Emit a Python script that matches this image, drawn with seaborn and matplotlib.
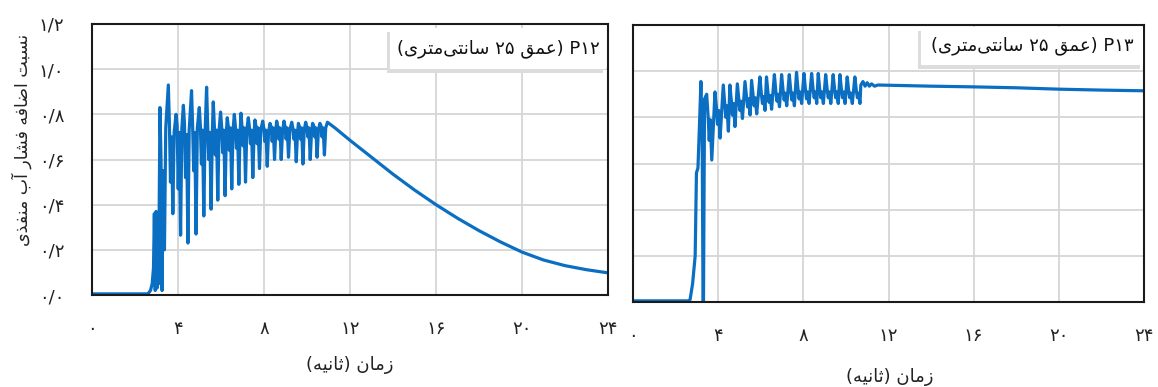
import matplotlib
matplotlib.use("Agg")
import matplotlib.pyplot as plt
from matplotlib.patches import Rectangle
import seaborn as sns

# ---------------- data ----------------
# P12: onset of the pressure rise
p12_onset_t = [0.0, 2.6, 2.72, 2.8, 2.86, 2.9, 2.94, 2.98, 3.02, 3.06, 3.1]
p12_onset_v = [0.005, 0.005, 0.02, 0.05, 0.12, 0.36, 0.02, 0.37, 0.03, 0.36, 0.05]
# P12: one entry per wave cycle
p12_peak_t = [3.16, 3.55, 3.91, 4.25, 4.63, 4.99, 5.33, 5.64, 5.98, 6.29, 6.62, 6.93,
              7.27, 7.58, 7.94, 8.28, 8.59, 8.93, 9.29, 9.60, 9.94, 10.26, 10.60]
p12_peak_v = [0.83, 0.93, 0.80, 0.84, 0.905, 0.83, 0.92, 0.855, 0.81, 0.785, 0.80, 0.805,
              0.785, 0.775, 0.77, 0.76, 0.77, 0.77, 0.765, 0.76, 0.765, 0.76, 0.76]
p12_band_hi = [0.60, 0.76, 0.75, 0.76, 0.75, 0.75, 0.75, 0.75, 0.745, 0.745, 0.745, 0.74,
               0.745, 0.745, 0.74, 0.745, 0.745, 0.745, 0.74, 0.745, 0.745, 0.75, 0.75]
p12_band_lo = [0.02, 0.50, 0.47, 0.52, 0.55, 0.58, 0.60, 0.62, 0.63, 0.64, 0.65, 0.66,
               0.67, 0.67, 0.68, 0.68, 0.69, 0.69, 0.69, 0.69, 0.70, 0.70, 0.70]
p12_band_hi2 = [0.55, 0.70, 0.72, 0.71, 0.72, 0.73, 0.72, 0.73, 0.73, 0.74, 0.73, 0.74,
                0.73, 0.74, 0.73, 0.74, 0.74, 0.74, 0.73, 0.74, 0.74, 0.74, 0.74]
p12_trough_v = [0.20, 0.36, 0.265, 0.23, 0.27, 0.35, 0.38, 0.42, 0.44, 0.47, 0.49, 0.50,
                0.52, 0.56, 0.57, 0.60, 0.60, 0.61, 0.59, 0.58, 0.60, 0.61, 0.62]
p12_band_mid = [0.74, 0.72, 0.74, 0.73, 0.74, 0.72, 0.73, 0.73, 0.72, 0.73, 0.72, 0.73,
                0.72, 0.73, 0.72, 0.73, 0.72, 0.73, 0.72, 0.73, 0.72, 0.73, 0.74]
p12_cycle_offsets = [0.0, 0.05, 0.10, 0.15, 0.21, 0.27]
# P12: dissipation after the waves stop
p12_decay_t = [10.95, 11.3, 12, 13, 14, 15, 16, 17, 18, 19, 20, 21, 22, 23, 24]
p12_decay_v = [0.765, 0.74, 0.685, 0.61, 0.535, 0.465, 0.40, 0.34, 0.285, 0.235, 0.19,
               0.155, 0.13, 0.112, 0.098]

# P13: onset of the pressure rise
p13_onset_t = [0.0, 2.6, 2.68, 2.8, 2.92, 2.98, 3.05, 3.12, 3.19, 3.25, 3.29, 3.31, 3.36]
p13_onset_v = [0.005, 0.005, 0.01, 0.08, 0.20, 0.56, 0.58, 0.76, 0.955, 0.70, 0.0, 0.0, 0.88]
# P13: one entry per wave cycle
p13_peak_t = [3.46, 3.85, 4.24, 4.55, 4.90, 5.26, 5.57, 5.96, 6.27, 6.64, 6.98, 7.34,
              7.68, 8.03, 8.39, 8.70, 9.05, 9.40, 9.72, 10.06, 10.42]
p13_peak_v = [0.90, 0.91, 0.94, 0.94, 0.945, 0.955, 0.96, 0.975, 0.975, 0.985, 0.985, 0.985,
              0.995, 0.99, 0.99, 0.99, 0.985, 0.985, 0.985, 0.975, 0.975]
p13_shoulder_v = [0.80, 0.84, 0.86, 0.87, 0.88, 0.89, 0.895, 0.90, 0.905, 0.91, 0.915, 0.915,
                  0.92, 0.92, 0.92, 0.92, 0.92, 0.92, 0.92, 0.915, 0.915]
p13_dip_v = [0.70, 0.77, 0.80, 0.81, 0.83, 0.845, 0.85, 0.86, 0.865, 0.87, 0.875, 0.875,
             0.88, 0.88, 0.885, 0.885, 0.885, 0.885, 0.885, 0.885, 0.885]
p13_shoulder2_v = [0.79, 0.83, 0.85, 0.86, 0.87, 0.88, 0.885, 0.89, 0.895, 0.90, 0.905, 0.905,
                   0.91, 0.91, 0.91, 0.91, 0.91, 0.91, 0.91, 0.905, 0.905]
p13_trough_v = [0.615, 0.71, 0.74, 0.76, 0.795, 0.81, 0.815, 0.83, 0.835, 0.846, 0.85, 0.85,
                0.86, 0.86, 0.86, 0.86, 0.86, 0.86, 0.86, 0.86, 0.86]
p13_cycle_offsets = [0.0, 0.07, 0.12, 0.17, 0.24]
# P13: steady level after the waves stop
p13_settle_t = [10.7, 10.8, 10.9, 11.0, 11.1, 11.2, 11.35, 11.5, 14, 16, 18, 20, 22, 24]
p13_settle_v = [0.94, 0.955, 0.935, 0.95, 0.935, 0.945, 0.935, 0.94, 0.935, 0.932, 0.928,
                0.922, 0.918, 0.915]

x_ticks = [0, 4, 8, 12, 16, 20, 24]
x_tick_labels = ["۰", "۴", "۸", "۱۲", "۱۶", "۲۰", "۲۴"]
y_ticks = [0.0, 0.2, 0.4, 0.6, 0.8, 1.0, 1.2]
y_tick_labels = ["۰/۰", "۰/۲", "۰/۴", "۰/۶", "۰/۸", "۱/۰", "۱/۲"]

y_title = "نسبت اضافه فشار آب منفذی"
x_title = "زمان (ثانیه)"
p12_title = "P۱۲ (عمق ۲۵ سانتی‌متری)"
p13_title = "P۱۳ (عمق ۲۵ سانتی‌متری)"

LINE_COLOR = "#0a6fc2"

# ---------------- Persian text shaping ----------------
# isolated, final, initial, medial presentation forms
FORMS = {
    "ا": ("\uFE8D", "\uFE8E", None, None),
    "آ": ("\uFE81", "\uFE82", None, None),
    "ب": ("\uFE8F", "\uFE90", "\uFE91", "\uFE92"),
    "ت": ("\uFE95", "\uFE96", "\uFE97", "\uFE98"),
    "ث": ("\uFE99", "\uFE9A", "\uFE9B", "\uFE9C"),
    "ذ": ("\uFEAB", "\uFEAC", None, None),
    "ر": ("\uFEAD", "\uFEAE", None, None),
    "ز": ("\uFEAF", "\uFEB0", None, None),
    "س": ("\uFEB1", "\uFEB2", "\uFEB3", "\uFEB4"),
    "ش": ("\uFEB5", "\uFEB6", "\uFEB7", "\uFEB8"),
    "ض": ("\uFEBD", "\uFEBE", "\uFEBF", "\uFEC0"),
    "ع": ("\uFEC9", "\uFECA", "\uFECB", "\uFECC"),
    "ف": ("\uFED1", "\uFED2", "\uFED3", "\uFED4"),
    "ق": ("\uFED5", "\uFED6", "\uFED7", "\uFED8"),
    "م": ("\uFEE1", "\uFEE2", "\uFEE3", "\uFEE4"),
    "ن": ("\uFEE5", "\uFEE6", "\uFEE7", "\uFEE8"),
    "ه": ("\uFEE9", "\uFEEA", "\uFEEB", "\uFEEC"),
    "ی": ("\uFEEF", "\uFEF0", "\uFEF3", "\uFEF4"),
}
MIRROR = {"(": ")", ")": "("}


def _is_ltr(ch):
    return (ch.isascii() and ch.isalnum()) or ("\u06F0" <= ch <= "\u06F9")


def rtl(text):
    """Join Persian letters into their contextual forms and lay them out right-to-left."""
    shaped = []
    n = len(text)
    for i, ch in enumerate(text):
        if ch == "\u200c":
            continue
        if ch not in FORMS:
            shaped.append(ch)
            continue
        prev_ch = text[i - 1] if i > 0 else ""
        next_ch = text[i + 1] if i + 1 < n else ""
        join_prev = prev_ch in FORMS and FORMS[prev_ch][2] is not None
        join_next = FORMS[ch][2] is not None and next_ch in FORMS
        iso, fin, ini, med = FORMS[ch]
        if join_prev and join_next:
            shaped.append(med)
        elif join_prev:
            shaped.append(fin)
        elif join_next:
            shaped.append(ini)
        else:
            shaped.append(iso)
    rev = [MIRROR.get(c, c) for c in reversed(shaped)]
    out, run = [], []
    for c in rev:
        if _is_ltr(c):
            run.append(c)
        else:
            out.extend(reversed(run))
            run = []
            out.append(c)
    out.extend(reversed(run))
    return "".join(out)


# ---------------- build the traces ----------------
def p12_trace():
    t, v = list(p12_onset_t), list(p12_onset_v)
    for i, t0 in enumerate(p12_peak_t):
        vals = [p12_peak_v[i], p12_band_hi[i], p12_band_lo[i], p12_band_hi2[i],
                p12_trough_v[i], p12_band_mid[i]]
        for off, val in zip(p12_cycle_offsets, vals):
            t.append(t0 + off)
            v.append(val)
    t += p12_decay_t
    v += p12_decay_v
    return t, v


def p13_trace():
    t, v = list(p13_onset_t), list(p13_onset_v)
    for i, t0 in enumerate(p13_peak_t):
        vals = [p13_peak_v[i], p13_shoulder_v[i], p13_dip_v[i], p13_shoulder2_v[i],
                p13_trough_v[i]]
        for off, val in zip(p13_cycle_offsets, vals):
            t.append(t0 + off)
            v.append(val)
    t += p13_settle_t
    v += p13_settle_v
    return t, v


# ---------------- figure ----------------
sns.set_theme(style="whitegrid")
plt.rcParams["font.family"] = ["DejaVu Sans"]

W, H = 1158, 387
fig = plt.figure(figsize=(W / 100, H / 100), dpi=100)
fig.patch.set_facecolor("white")

ax1 = fig.add_axes([92 / W, 1 - 295 / H, 516 / W, 271 / H])
ax2 = fig.add_axes([633 / W, 1 - 302 / H, 511 / W, 277 / H])

for ax, (t, v) in ((ax1, p12_trace()), (ax2, p13_trace())):
    sns.lineplot(x=t, y=v, ax=ax, sort=False, estimator=None, color=LINE_COLOR,
                 linewidth=2.3, zorder=3)
    ax.set_xlim(0, 24)
    ax.set_ylim(0, 1.2)
    ax.set_facecolor("white")
    ax.grid(True, color="#d6d6d6", linewidth=1.3)
    ax.set_axisbelow(True)
    for sp in ax.spines.values():
        sp.set_visible(True)
        sp.set_color("#1a1a1a")
        sp.set_linewidth(1.5)
        sp.set_zorder(4)
    ax.set_xticks(x_ticks)
    ax.set_xticklabels(x_tick_labels)
    ax.set_yticks(y_ticks)
    ax.tick_params(axis="both", length=0, labelsize=13, colors="#222222")
    ax.tick_params(axis="x", pad=18)
    ax.set_xlabel("")
    ax.set_ylabel("")

ax1.set_yticklabels(y_tick_labels)
ax1.tick_params(axis="y", pad=20)
ax2.set_yticklabels([])


def label_box(ax, x0, y0, x1, y1, text):
    shadow = Rectangle((x0 - 0.006, y0 - 0.014), x1 - x0, y1 - y0, transform=ax.transAxes,
                       facecolor="#dcdcdc", edgecolor="none", zorder=5)
    box = Rectangle((x0, y0), x1 - x0, y1 - y0, transform=ax.transAxes,
                    facecolor="white", edgecolor="none", zorder=6)
    ax.add_patch(shadow)
    ax.add_patch(box)
    ax.text((x0 + x1) / 2, (y0 + y1) / 2, rtl(text), transform=ax.transAxes,
            ha="center", va="center", fontsize=13, color="#111111", zorder=7)


label_box(ax1, 0.578, 0.834, 0.996, 0.985, p12_title)
label_box(ax2, 0.564, 0.856, 0.998, 0.993, p13_title)

fig.text(22 / W, 1 - 140 / H, rtl(y_title), rotation=90, ha="center", va="center",
         fontsize=12.5, color="#222222")
fig.text(350 / W, 1 - 365 / H, rtl(x_title), ha="center", va="center",
         fontsize=13, color="#222222")
fig.text(890 / W, 1 - 377 / H, rtl(x_title), ha="center", va="center",
         fontsize=13, color="#222222")

fig.savefig("out.png", dpi=100, facecolor="white")
